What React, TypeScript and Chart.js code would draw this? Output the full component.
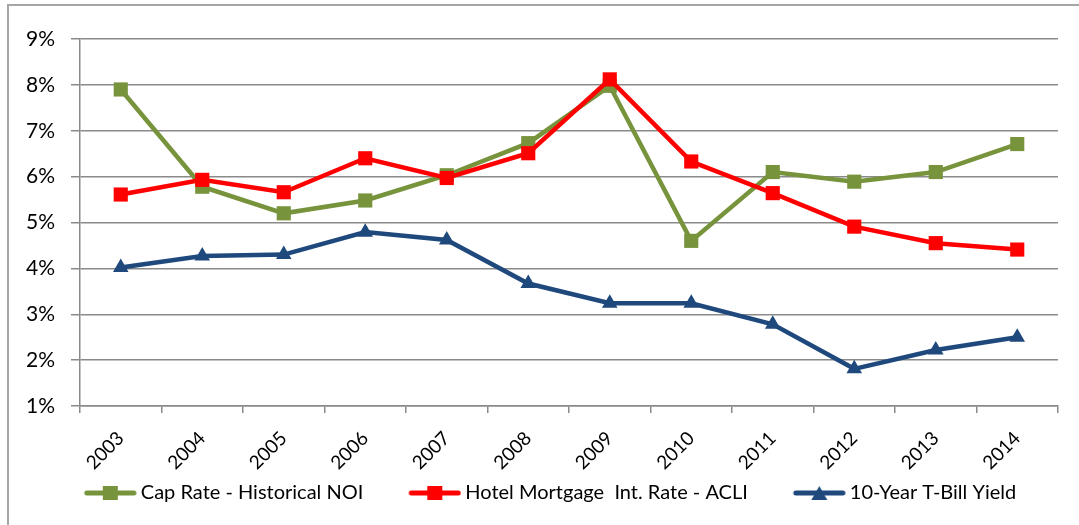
import React, { useEffect, useRef } from "react";
import { Chart, registerables } from "chart.js";

Chart.register(...registerables);

const categories = ["2003", "2004", "2005", "2006", "2007", "2008", "2009", "2010", "2011", "2012", "2013", "2014"];
const capRate = [7.9, 5.78, 5.2, 5.48, 6.03, 6.73, 7.98, 4.6, 6.1, 5.89, 6.1, 6.71];
const mortgageRate = [5.61, 5.93, 5.66, 6.4, 5.97, 6.51, 8.12, 6.33, 5.64, 4.91, 4.55, 4.41];
const tBillYield = [4.02, 4.27, 4.3, 4.79, 4.62, 3.67, 3.24, 3.24, 2.78, 1.81, 2.22, 2.5];
const seriesLabels = ["Cap Rate - Historical NOI", "Hotel Mortgage  Int. Rate - ACLI", "10-Year T-Bill Yield"];
const seriesColors = ["#77933C", "#FF0000", "#1F497D"];
const yTicks = [1, 2, 3, 4, 5, 6, 7, 8, 9];

const FONT = "Lato, 'Open Sans', sans-serif";
const SHIFT = 14; // canvas starts this many px left of the page edge
const BOX_W = 82;
const IMG_W = BOX_W + 12;

function legendImage(color: string, marker: "rect" | "triangle") {
  const c = document.createElement("canvas");
  c.width = IMG_W;
  c.height = 18;
  const ctx = c.getContext("2d")!;
  const x0 = IMG_W - 53;
  ctx.strokeStyle = color;
  ctx.fillStyle = color;
  ctx.lineWidth = 5;
  ctx.lineCap = "round";
  ctx.beginPath();
  ctx.moveTo(x0 + 3, 9);
  ctx.lineTo(x0 + 50, 9);
  ctx.stroke();
  const cx = x0 + 26.5;
  if (marker === "rect") {
    ctx.fillRect(cx - 7.5, 2, 15, 14);
  } else {
    ctx.beginPath();
    ctx.moveTo(cx, 2);
    ctx.lineTo(cx + 8, 16);
    ctx.lineTo(cx - 8, 16);
    ctx.closePath();
    ctx.fill();
  }
  return c;
}

export default function App() {
  const ref = useRef<HTMLCanvasElement>(null);

  useEffect(() => {
    if (!ref.current) return;
    const imgs = [
      legendImage(seriesColors[0], "rect"),
      legendImage(seriesColors[1], "rect"),
      legendImage(seriesColors[2], "triangle"),
    ];
    const chart = new Chart(ref.current, {
      type: "line",
      data: {
        labels: categories,
        datasets: [
          {
            label: seriesLabels[0],
            data: capRate,
            borderColor: seriesColors[0],
            backgroundColor: seriesColors[0],
            borderWidth: 4.5,
            pointStyle: "rect",
            pointRadius: 10,
            pointBorderWidth: 0,
            order: 3,
          },
          {
            label: seriesLabels[1],
            data: mortgageRate,
            borderColor: seriesColors[1],
            backgroundColor: seriesColors[1],
            borderWidth: 4.5,
            pointStyle: "rect",
            pointRadius: 10,
            pointBorderWidth: 0,
            order: 2,
          },
          {
            label: seriesLabels[2],
            data: tBillYield,
            borderColor: seriesColors[2],
            backgroundColor: seriesColors[2],
            borderWidth: 4.5,
            pointStyle: "triangle",
            pointRadius: 9,
            pointBorderWidth: 0,
            order: 1,
          },
        ],
      },
      options: {
        responsive: false,
        animation: false,
        layout: { padding: { top: 39, right: 0, left: 0, bottom: 12 } },
        plugins: {
          tooltip: { enabled: false },
          legend: {
            position: "bottom",
            labels: {
              usePointStyle: true,
              pointStyleWidth: BOX_W,
              boxHeight: 18,
              padding: 10,
              color: "#000",
              font: { family: FONT, size: 20 },
              generateLabels: (ch: any) =>
                ch.data.datasets.map((ds: any, i: number) => ({
                  text: ds.label,
                  fillStyle: ds.borderColor,
                  strokeStyle: ds.borderColor,
                  lineWidth: 0,
                  pointStyle: imgs[i],
                  hidden: false,
                  datasetIndex: i,
                  fontColor: "#000",
                })),
            },
          },
        },
        scales: {
          x: {
            type: "category",
            offset: true,
            grid: {
              offset: true,
              drawOnChartArea: false,
              drawTicks: true,
              tickLength: 7,
              color: "#8a8a8a",
              lineWidth: 1.5,
            },
            border: { display: true, color: "#8a8a8a", width: 1.5 },
            ticks: {
              color: "#000",
              font: { family: FONT, size: 19 },
              minRotation: 45,
              maxRotation: 45,
              padding: 14,
              autoSkip: false,
            },
            afterFit: (s: any) => {
              s.height = 67;
            },
          },
          y: {
            min: yTicks[0],
            max: yTicks[yTicks.length - 1],
            afterBuildTicks: (s: any) => {
              s.ticks = yTicks.map((v) => ({ value: v }));
            },
            grid: {
              color: "#8a8a8a",
              lineWidth: 1.5,
              tickLength: 9,
              drawTicks: true,
            },
            border: { display: true, color: "#8a8a8a", width: 1.5 },
            ticks: {
              color: "#000",
              font: { family: FONT, size: 21 },
              padding: 16,
              callback: (v: any) => v + "%",
            },
            afterFit: (s: any) => {
              s.width = 80 + SHIFT;
            },
          },
          yRight: {
            position: "right",
            min: yTicks[0],
            max: yTicks[yTicks.length - 1],
            display: true,
            grid: { display: false, drawOnChartArea: false, drawTicks: false },
            border: { display: false },
            ticks: { display: false },
            afterFit: (s: any) => {
              s.width = 21;
            },
          },
        },
      },
    });
    return () => chart.destroy();
  }, []);

  return (
    <div style={{ position: "fixed", inset: 0, overflow: "hidden", background: "#fff" }}>
      <div
        style={{
          position: "absolute",
          left: 7,
          top: 4,
          width: 1200,
          height: 700,
          border: "2px solid #a6a6a6",
        }}
      />
      <canvas
        ref={ref}
        width={1079 + SHIFT}
        height={525}
        style={{ position: "absolute", left: -SHIFT, top: 0, width: 1079 + SHIFT, height: 525 }}
      />
    </div>
  );
}
